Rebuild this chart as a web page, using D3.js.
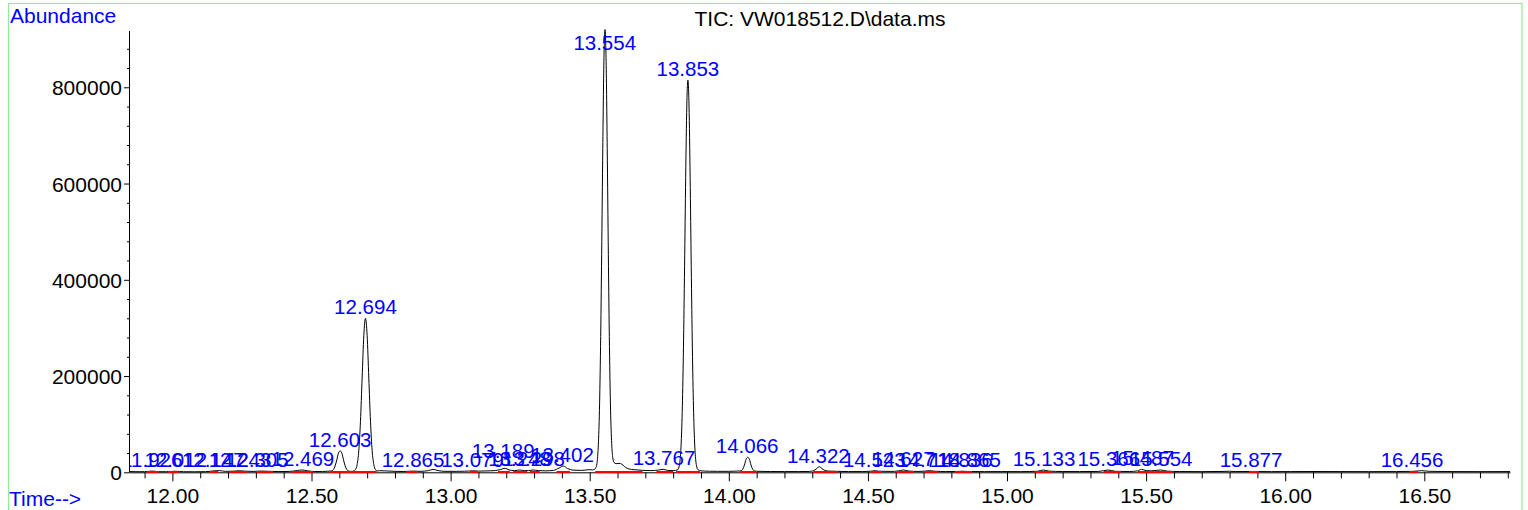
<!DOCTYPE html>
<html>
<head>
<meta charset="utf-8">
<script src="https://cdn.jsdelivr.net/npm/d3@7"></script>
<style>
  html, body { margin: 0; padding: 0; background: #ffffff; }
  svg { display: block; }
  text { font-family: "Liberation Sans", Arial, sans-serif; }
</style>
</head>
<body>
<svg id="chart" width="1528" height="510"></svg>
<script>
// ---------------- DATA ----------------
const chartTitle = "TIC: VW018512.D\\data.ms";
const yAxisLabel = "Abundance";
const xAxisLabel = "Time-->";

const xTickValues = [12.0, 12.5, 13.0, 13.5, 14.0, 14.5, 15.0, 15.5, 16.0, 16.5];
const yTickValues = [0, 200000, 400000, 600000, 800000];

// TIC trace: retention time (min) and abundance
const traceTime = [
  11.844, 11.88, 11.90, 11.928, 11.95, 11.98, 12.01, 12.04, 12.08, 12.12,
  12.15, 12.17, 12.19, 12.22, 12.24, 12.26, 12.29, 12.32, 12.34, 12.38,
  12.42, 12.45, 12.466, 12.485, 12.51, 12.54,
  12.573, 12.579, 12.585, 12.591, 12.597, 12.603, 12.609, 12.615, 12.621, 12.627, 12.633, 12.642,
  12.652, 12.658, 12.664, 12.670, 12.676, 12.682, 12.688, 12.694, 12.700, 12.706,
  12.712, 12.718, 12.724, 12.730, 12.736, 12.745,
  12.77, 12.80, 12.83, 12.866, 12.89, 12.92, 12.937, 12.955, 12.98,
  13.02, 13.05, 13.08, 13.10, 13.13, 13.16, 13.18, 13.195, 13.21, 13.23,
  13.249, 13.265, 13.28, 13.297, 13.315, 13.34, 13.37, 13.39, 13.405, 13.42,
  13.44, 13.47, 13.49, 13.50, 13.51,
  13.515, 13.523, 13.527, 13.531, 13.535, 13.539, 13.543, 13.547, 13.551, 13.555,
  13.559, 13.563, 13.567, 13.571, 13.575, 13.579, 13.583, 13.588, 13.595, 13.605,
  13.615, 13.625, 13.635, 13.65, 13.67, 13.69, 13.72, 13.745, 13.764, 13.78, 13.80,
  13.817, 13.821, 13.825, 13.829, 13.833, 13.837, 13.841, 13.845, 13.849, 13.853,
  13.857, 13.861, 13.865, 13.869, 13.873, 13.877, 13.881, 13.885, 13.889, 13.90,
  13.93, 13.96, 14.00, 14.03,
  14.044, 14.050, 14.056, 14.062, 14.068, 14.074, 14.080, 14.086, 14.092, 14.105,
  14.15, 14.20, 14.25, 14.29, 14.31, 14.318, 14.325, 14.333, 14.345, 14.36,
  14.39, 14.43, 14.48, 14.51, 14.526, 14.54, 14.58, 14.61, 14.627, 14.645,
  14.68, 14.705, 14.72, 14.74, 14.78, 14.82, 14.84, 14.86, 14.92, 14.98,
  15.05, 15.11, 15.13, 15.15, 15.20, 15.26, 15.33, 15.363, 15.39, 15.44,
  15.47, 15.484, 15.50, 15.52, 15.552, 15.575, 15.62, 15.70, 15.78, 15.80,
  15.82, 15.88, 15.95, 16.02, 16.10, 16.20, 16.30, 16.40, 16.46, 16.49,
  16.52, 16.60, 16.70, 16.808
];
const traceAbundance = [
  1500, 1200, 1300, 2600, 1300, 1200, 2200, 1200, 1100, 1300,
  3000, 3500, 2000, 2400, 3200, 2400, 1800, 2600, 2200, 1500,
  1800, 3800, 4800, 3200, 1600, 1800,
  2800, 5800, 13300, 26000, 40000, 44300, 40000, 26000, 13300, 5800, 2800, 1900,
  2700, 5600, 16000, 45000, 106000, 196000, 284000, 320000, 284000, 196000,
  106000, 45000, 16000, 5600, 2700, 3300,
  2800, 2000, 1600, 2600, 2000, 3500, 6000, 3500, 2000,
  2000, 2200, 3000, 2500, 2800, 3500, 6000, 8300, 5000, 3500,
  4800, 3500, 3500, 4800, 3500, 3000, 4000, 9000, 13000, 8000,
  4500, 4000, 5000, 5500, 5000,
  5500, 10500, 23000, 57000, 129000, 261000, 453000, 673000, 854000, 920000,
  854000, 673000, 453000, 261000, 129000, 60000, 30000, 20000, 18000, 18500,
  17000, 12000, 8000, 6000, 5000, 4000, 3500, 4500, 6200, 4000, 3500,
  5500, 11000, 26000, 63000, 136000, 258000, 427000, 613000, 761000, 815000,
  761000, 613000, 427000, 258000, 136000, 63000, 26000, 11000, 5500, 3000,
  2200, 2000, 2000, 2500,
  2900, 6200, 14800, 27000, 31200, 27000, 14800, 6200, 2900, 2000,
  1600, 1500, 1500, 1800, 5000, 9000, 11600, 8500, 4000, 2500,
  2000, 1500, 1500, 2200, 3300, 2200, 1800, 2800, 4800, 2800,
  1800, 2400, 3300, 2300, 1500, 1800, 2200, 1600, 1400, 1500,
  1400, 2200, 4800, 2500, 1600, 1500, 1800, 4800, 2000, 1600,
  3000, 6200, 3500, 3000, 4800, 2500, 1600, 1400, 1800, 2200,
  1500, 1700, 1400, 1500, 1600, 1500, 1400, 1500, 2000, 3300,
  2000, 1500, 1400, 1500
];

// Integrated peaks: labelled retention time and apex abundance
const peakRT = [
  "11.926", "12.012", "12.147", "12.243", "12.305", "12.469", "12.603", "12.694",
  "12.865", "13.079", "13.189", "13.248", "13.298", "13.402", "13.554", "13.767",
  "13.853", "14.066", "14.322", "14.523", "14.627", "14.718", "14.836", "14.865",
  "15.133", "15.366", "15.487", "15.554", "15.877", "16.456"
];
const peakHeight = [
  2600, 2200, 3000, 3200, 2600, 4800, 44300, 320000,
  2600, 3000, 22000, 4800, 4800, 13000, 920000, 6200,
  815000, 31200, 11600, 3300, 4800, 3300, 2200, 2200,
  4800, 4800, 6200, 4800, 1700, 2000
];

// Integration baselines (start / end time, min)
const integStart = [
  11.907, 11.985, 12.135, 12.207, 12.303, 12.428, 12.566, 12.84, 13.069, 13.17,
  13.225, 13.285, 13.381, 13.52, 13.74, 13.81, 14.04, 14.303, 14.51, 14.603,
  14.704, 14.812, 15.099, 15.347, 15.47, 15.53, 15.87, 16.447
];
const integEnd = [
  11.949, 12.021, 12.165, 12.267, 12.362, 12.506, 12.734, 12.878, 13.099, 13.213,
  13.275, 13.32, 13.429, 13.69, 13.80, 13.896, 14.10, 14.388, 14.549, 14.665,
  14.751, 14.874, 15.161, 15.409, 15.53, 15.595, 15.905, 16.477
];

// ---------------- CHART ----------------
const svg = d3.select("#chart");
const plot = { left: 129, right: 1510, top: 30.5, bottom: 472.3 };

const x = d3.scaleLinear().domain([11.844, 16.808]).range([plot.left, plot.right]);
const y = d3.scaleLinear().domain([0, 918000]).range([plot.bottom, plot.top]);

// frame
svg.append("rect")
  .attr("x", 8.5).attr("y", 3.5)
  .attr("width", 1513.5).attr("height", 520)
  .attr("fill", "none").attr("stroke", "#90ee90").attr("stroke-width", 1.2);

// clip for plot content
svg.append("defs").append("clipPath").attr("id", "plotClip")
  .append("rect")
  .attr("x", plot.left + 1).attr("y", 0)
  .attr("width", plot.right - plot.left).attr("height", plot.bottom + 1);

const fontSize = 21;

// X axis minor ticks
const xMinor = d3.range(119, 169).map(d => d / 10).filter(v => !xTickValues.some(t => Math.abs(t - v) < 1e-6));
svg.append("g")
  .attr("transform", `translate(0,${plot.bottom})`)
  .call(d3.axisBottom(x).tickValues(xMinor).tickSize(6).tickSizeOuter(0).tickFormat(""))
  .call(g => g.select(".domain").remove())
  .call(g => g.selectAll("line").attr("stroke", "#000"));

// X axis major
const gx = svg.append("g")
  .attr("transform", `translate(0,${plot.bottom})`)
  .call(d3.axisBottom(x).tickValues(xTickValues).tickSize(9).tickSizeOuter(0).tickFormat(d3.format(".2f")));
gx.select(".domain").attr("stroke", "#000");
gx.selectAll("line").attr("stroke", "#000");
gx.selectAll("text")
  .attr("y", 31).attr("dy", 0)
  .attr("font-size", fontSize)
  .attr("font-family", "Liberation Sans, Arial, sans-serif")
  .attr("fill", "#000");

// Y axis minor ticks
const yMinor = d3.range(40000, 918000, 40000).filter(v => v % 200000 !== 0);
svg.append("g")
  .attr("transform", `translate(${plot.left},0)`)
  .call(d3.axisLeft(y).tickValues(yMinor).tickSize(2).tickSizeOuter(0).tickFormat(""))
  .call(g => g.select(".domain").remove())
  .call(g => g.selectAll("line").attr("stroke", "#000"));

// Y axis major
const gy = svg.append("g")
  .attr("transform", `translate(${plot.left},0)`)
  .call(d3.axisLeft(y).tickValues(yTickValues).tickSize(5).tickSizeOuter(0).tickPadding(2).tickFormat(d3.format("d")));
gy.select(".domain").attr("stroke", "#000");
gy.selectAll("line").attr("stroke", "#000");
gy.selectAll("text")
  .attr("font-size", fontSize)
  .attr("font-family", "Liberation Sans, Arial, sans-serif")
  .attr("dy", "0.36em")
  .attr("fill", "#000");

// trace
const traceData = traceTime.map((t, i) => ({ t, v: traceAbundance[i] }));
const line = d3.line().x(d => x(d.t)).y(d => y(d.v)).curve(d3.curveMonotoneX);

const content = svg.append("g").attr("clip-path", "url(#plotClip)");

content.append("path")
  .datum(traceData)
  .attr("d", line)
  .attr("fill", "none")
  .attr("stroke", "#000")
  .attr("stroke-width", 1);

// integration baselines
content.selectAll("line.integ")
  .data(integStart.map((s, i) => ({ s, e: integEnd[i] })))
  .join("line")
  .attr("class", "integ")
  .attr("x1", d => x(d.s)).attr("x2", d => x(d.e))
  .attr("y1", y(600)).attr("y2", y(600))
  .attr("stroke", "#ff0000")
  .attr("stroke-width", 2);

// peak labels
content.selectAll("text.peak")
  .data(peakRT.map((rt, i) => ({ rt, h: peakHeight[i] })))
  .join("text")
  .attr("class", "peak")
  .attr("x", d => x(+d.rt))
  .attr("y", d => Math.max(y(d.h) - 4, 50))
  .attr("text-anchor", "middle")
  .attr("font-size", 20.5)
  .attr("fill", "#0000ff")
  .text(d => d.rt);

// titles
svg.append("text")
  .attr("x", 10).attr("y", 23)
  .attr("font-size", fontSize)
  .attr("fill", "#0000ff")
  .text(yAxisLabel);

svg.append("text")
  .attr("x", 9).attr("y", 506)
  .attr("font-size", fontSize)
  .attr("fill", "#0000ff")
  .text(xAxisLabel);

svg.append("text")
  .attr("x", 820).attr("y", 26)
  .attr("text-anchor", "middle")
  .attr("font-size", fontSize)
  .attr("fill", "#000")
  .text(chartTitle);
</script>
</body>
</html>
